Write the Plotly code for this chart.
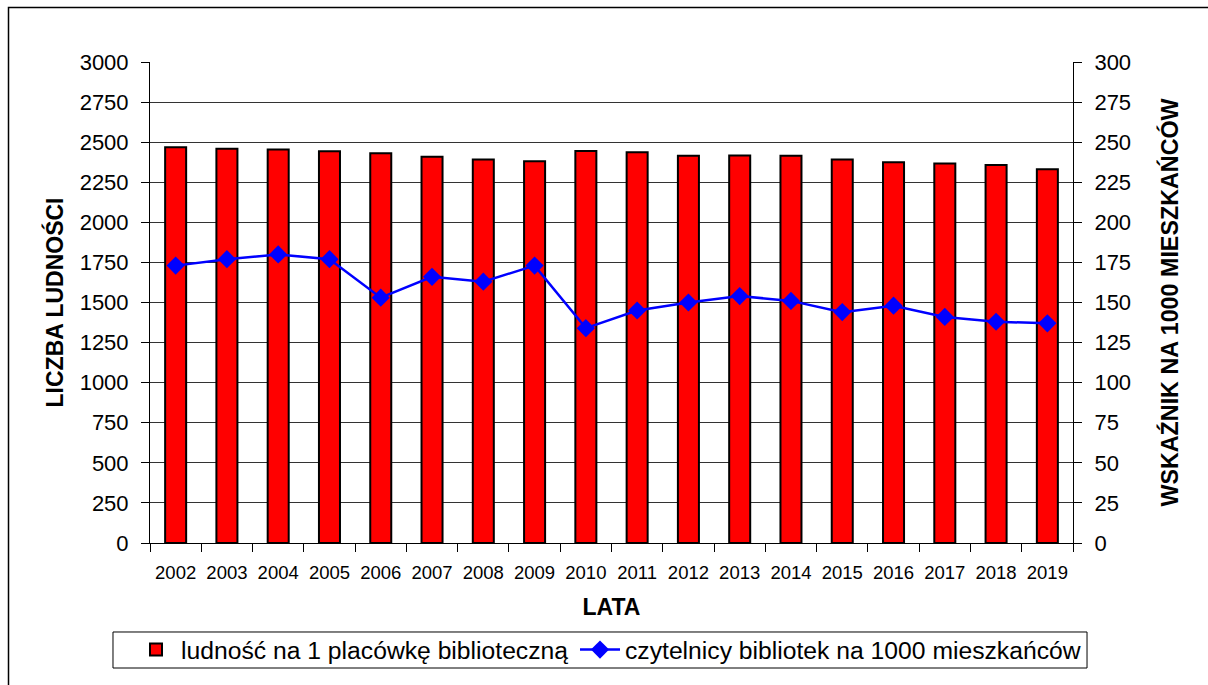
import plotly.graph_objects as go

years = [str(y) for y in range(2002, 2020)]
ludnosc = [2468, 2459, 2454, 2444, 2431, 2409, 2392, 2381, 2445,
           2437, 2415, 2417, 2415, 2392, 2375, 2367, 2358, 2331]
czytelnicy = [173, 177, 180, 177, 153, 166, 163, 173, 134,
              145, 150, 154, 151, 144, 148, 141, 138, 137]

left_ticks = list(range(0, 3001, 250))
right_ticks = list(range(0, 301, 25))

FONT = "Liberation Sans, Arial, sans-serif"

fig = go.Figure()
fig.add_trace(go.Bar(
    x=years, y=ludnosc, name="ludność na 1 placówkę biblioteczną",
    marker=dict(color="#FF0000", line=dict(color="#000000", width=2)),
    yaxis="y", legend="legend",
))
fig.add_trace(go.Scatter(
    x=years, y=czytelnicy, name="czytelnicy bibliotek na 1000 mieszkańców",
    mode="lines+markers",
    line=dict(color="#0000FF", width=2.5),
    marker=dict(symbol="diamond", size=14, color="#0000FF"),
    yaxis="y2", legend="legend2",
))

legend_common = dict(
    orientation="h", yanchor="middle", y=-0.2225, xanchor="left",
    borderwidth=0, bgcolor="rgba(0,0,0,0)", font=dict(size=24.7, family=FONT),
)

fig.update_layout(
    width=1208, height=685,
    margin=dict(l=150, r=135, t=62, b=142),
    paper_bgcolor="white", plot_bgcolor="white",
    font=dict(family=FONT, color="black"),
    bargap=0.59,
    showlegend=True,
    legend=dict(x=(131 - 150) / 923, itemwidth=40, **legend_common),
    legend2=dict(x=(575 - 150) / 923, itemwidth=40, **legend_common),
    xaxis=dict(
        type="category", range=[-0.5, 17.5], tickson="boundaries",
        ticks="outside", ticklen=8, ticklabelstandoff=13,
        tickcolor="black", showline=True, linecolor="black", linewidth=1,
        tickfont=dict(size=18.5), showgrid=False,
        title=dict(text="<b>LATA</b>", font=dict(size=23), standoff=16),
    ),
    yaxis=dict(
        range=[0, 3000], tickvals=left_ticks, ticks="outside", ticklen=8,
        ticklabelstandoff=8,
        tickcolor="black", showline=True, linecolor="black", linewidth=1,
        showgrid=True, gridcolor="#333333", gridwidth=1,
        tickfont=dict(size=22), zeroline=False,
        title=dict(text="<b>LICZBA LUDNOŚCI</b>", font=dict(size=23), standoff=9),
    ),
    yaxis2=dict(
        range=[0, 300], tickvals=right_ticks, overlaying="y", side="right",
        ticks="outside", ticklen=8, ticklabelstandoff=8,
        tickcolor="black", showline=True,
        linecolor="black", linewidth=1, showgrid=False, zeroline=False,
        tickfont=dict(size=22),
        title=dict(text="<b>WSKAŹNIK NA 1000 MIESZKAŃCÓW</b>", font=dict(size=23.3), standoff=31),
    ),
)

# outer chart frame
fig.add_shape(type="rect", xref="paper", yref="paper",
              x0=-0.1533, x1=1.2, y0=-0.4, y1=1.1133,
              line=dict(color="black", width=1.5), layer="below")

# legend box
fig.add_shape(type="rect", xref="paper", yref="paper",
              x0=-0.0401, x1=1.0152, y0=-0.2599, y1=-0.185,
              line=dict(color="black", width=1), layer="below")

fig.write_html("out.html")
